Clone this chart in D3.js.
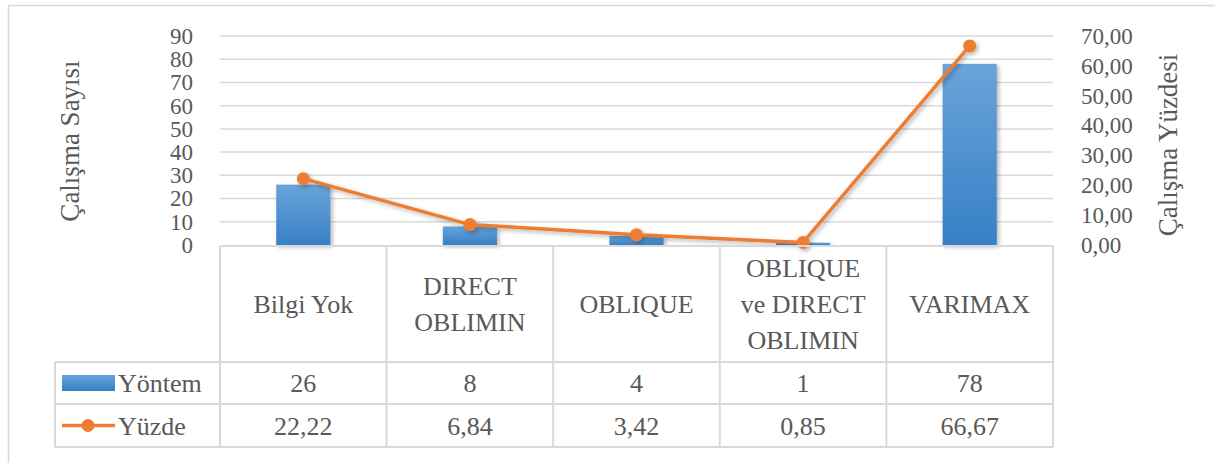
<!DOCTYPE html>
<html>
<head>
<meta charset="utf-8">
<script src="https://cdn.jsdelivr.net/npm/d3@7"></script>
<style>
  body { margin: 0; background: #fff; }
  svg text { font-family: "Liberation Serif", "DejaVu Serif", serif; fill: #595959; }
</style>
</head>
<body>
<svg id="chart" width="1215" height="463"></svg>
<script>
const categories = ['Bilgi Yok', 'DIRECT OBLIMIN', 'OBLIQUE', 'OBLIQUE ve DIRECT OBLIMIN', 'VARIMAX'];
const categoryLines = [['Bilgi Yok'], ['DIRECT', 'OBLIMIN'], ['OBLIQUE'], ['OBLIQUE', 've DIRECT', 'OBLIMIN'], ['VARIMAX']];
const yontem = [26, 8, 4, 1, 78];
const yuzde = [22.22, 6.84, 3.42, 0.85, 66.67];
const leftTicks = [0, 10, 20, 30, 40, 50, 60, 70, 80, 90];
const rightTicks = [0, 10, 20, 30, 40, 50, 60, 70];

const svg = d3.select('#chart');
const grid = '#d9d9d9';
const comma = (v) => d3.format('.2f')(v).replace('.', ',');

const x = d3.scaleBand().domain(categories).range([220, 1053]);
const yL = d3.scaleLinear().domain([0, 90]).range([245, 36]);
const yR = d3.scaleLinear().domain([0, 70]).range([245, 36]);

const defs = svg.append('defs');
const grad = defs.append('linearGradient').attr('id', 'barGrad')
  .attr('x1', 0).attr('y1', 0).attr('x2', 0).attr('y2', 1);
grad.append('stop').attr('offset', '0%').attr('stop-color', '#6aa3da');
grad.append('stop').attr('offset', '100%').attr('stop-color', '#3680c5');
const shadow = defs.append('filter').attr('id', 'shadow')
  .attr('x', '-20%').attr('y', '-20%').attr('width', '140%').attr('height', '140%');
shadow.append('feDropShadow').attr('dx', 2).attr('dy', 2).attr('stdDeviation', 2)
  .attr('flood-color', '#000').attr('flood-opacity', 0.3);

// outer border
svg.append('path').attr('d', 'M8.5,463 V5.5 H1215')
  .attr('fill', 'none').attr('stroke', grid).attr('stroke-width', 1.5);

// gridlines
svg.append('g').selectAll('line').data(leftTicks.slice(1)).enter()
  .append('line')
  .attr('x1', 220).attr('x2', 1053)
  .attr('y1', (d) => yL(d)).attr('y2', (d) => yL(d))
  .attr('stroke', grid).attr('stroke-width', 1.5);

// left axis
const left = svg.append('g').attr('transform', 'translate(193,0)')
  .call(d3.axisLeft(yL).tickValues(leftTicks).tickSize(0).tickPadding(0));
left.attr('font-family', null).attr('font-size', null);
left.select('.domain').remove();
left.selectAll('text').style('font-size', '23px').attr('fill', null);

// right axis
const right = svg.append('g').attr('transform', 'translate(1081,0)')
  .call(d3.axisRight(yR).tickValues(rightTicks).tickFormat(comma).tickSize(0).tickPadding(0));
right.attr('font-family', null).attr('font-size', null);
right.select('.domain').remove();
right.selectAll('text').style('font-size', '23px').attr('fill', null);

// axis titles
svg.append('text').attr('transform', 'translate(79,141) rotate(-90)')
  .attr('text-anchor', 'middle').style('font-size', '27px').text('Çalışma Sayısı');
svg.append('text').attr('transform', 'translate(1177,145) rotate(-90)')
  .attr('text-anchor', 'middle').style('font-size', '27px').text('Çalışma Yüzdesi');

// bars
const bw = x.bandwidth() * 0.325;
svg.append('g').selectAll('rect').data(yontem).enter()
  .append('rect')
  .attr('x', (d, i) => x(categories[i]) + x.bandwidth() / 2 - bw / 2)
  .attr('y', (d) => yL(d))
  .attr('width', bw)
  .attr('height', (d) => yL(0) - yL(d))
  .attr('fill', 'url(#barGrad)')
  .attr('filter', 'url(#shadow)');

// line
const pts = yuzde.map((d, i) => [x(categories[i]) + x.bandwidth() / 2, yR(d)]);
const lineG = svg.append('g').attr('filter', 'url(#shadow)');
lineG.append('path').attr('d', d3.line()(pts))
  .attr('fill', 'none').attr('stroke', '#ed7d31').attr('stroke-width', 3.5)
  .attr('stroke-linejoin', 'round');
lineG.selectAll('circle').data(pts).enter()
  .append('circle').attr('cx', (d) => d[0]).attr('cy', (d) => d[1]).attr('r', 6.5)
  .attr('fill', '#ed7d31');

// data table
const rows = [246, 362, 404, 447];
const tbl = svg.append('g').attr('stroke', grid).attr('stroke-width', 2);
tbl.append('line').attr('x1', 220).attr('x2', 1053).attr('y1', rows[0]).attr('y2', rows[0]);
[1, 2, 3].forEach((r) => tbl.append('line').attr('x1', 55).attr('x2', 1053).attr('y1', rows[r]).attr('y2', rows[r]));
tbl.append('line').attr('x1', 55).attr('x2', 55).attr('y1', rows[1]).attr('y2', rows[3]);
const edges = categories.map((c) => x(c)).concat([x.range()[1]]);
edges.forEach((e) => tbl.append('line').attr('x1', e).attr('x2', e).attr('y1', rows[0]).attr('y2', rows[3]));

// category labels
const catG = svg.append('g');
categoryLines.forEach((lines, i) => {
  const cx = x(categories[i]) + x.bandwidth() / 2;
  const cy = (rows[0] + rows[1]) / 2;
  const lh = 36;
  lines.forEach((t, j) => {
    catG.append('text').attr('x', cx).attr('y', cy + (j - (lines.length - 1) / 2) * lh)
      .attr('dy', '0.35em').attr('text-anchor', 'middle').style('font-size', '26px').text(t);
  });
});

// values
const valG = svg.append('g');
yontem.forEach((v, i) => {
  valG.append('text').attr('x', x(categories[i]) + x.bandwidth() / 2).attr('y', (rows[1] + rows[2]) / 2)
    .attr('dy', '0.35em').attr('text-anchor', 'middle').style('font-size', '26px').text(v);
});
yuzde.forEach((v, i) => {
  valG.append('text').attr('x', x(categories[i]) + x.bandwidth() / 2).attr('y', (rows[2] + rows[3]) / 2)
    .attr('dy', '0.35em').attr('text-anchor', 'middle').style('font-size', '26px').text(comma(v));
});

// legend keys
const yy = (rows[1] + rows[2]) / 2;
const zy = (rows[2] + rows[3]) / 2;
svg.append('rect').attr('x', 62).attr('y', yy - 8).attr('width', 53).attr('height', 16).attr('fill', 'url(#barGrad)');
svg.append('line').attr('x1', 62).attr('x2', 115).attr('y1', zy).attr('y2', zy)
  .attr('stroke', '#ed7d31').attr('stroke-width', 3.5);
svg.append('circle').attr('cx', 88).attr('cy', zy).attr('r', 6.5).attr('fill', '#ed7d31');
svg.append('text').attr('x', 118).attr('y', yy).attr('dy', '0.35em').style('font-size', '26px').text('Yöntem');
svg.append('text').attr('x', 118).attr('y', zy).attr('dy', '0.35em').style('font-size', '26px').text('Yüzde');
</script>
</body>
</html>
